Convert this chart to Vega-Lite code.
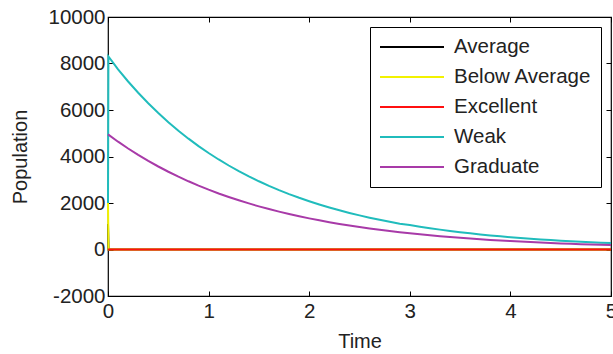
{
  "$schema": "https://vega.github.io/schema/vega-lite/v6.json",
  "width": 503,
  "height": 279,
  "autosize": {"type": "none"},
  "padding": {"left": 108, "top": 17, "right": 2, "bottom": 58},
  "background": "white",
  "config": {
    "view": {"stroke": "#000000", "strokeWidth": 1.2},
    "font": "Liberation Sans",
    "axis": {"grid": false, "domain": false, "tickColor": "#000000", "tickSize": -5, "labelColor": "#222222", "titleColor": "#222222", "labelFontSize": 20.5, "titleFontSize": 20, "titleFontWeight": "normal"}
  },
  "data": {"values": [
    {"t": 0, "v": 1100, "s": "Average"},
    {"t": 0.005, "v": 0, "s": "Average"},
    {"t": 5, "v": 0, "s": "Average"},
    {"t": 0, "v": 2000, "s": "Below Average"},
    {"t": 0.005, "v": 0, "s": "Below Average"},
    {"t": 5, "v": 0, "s": "Below Average"},
    {"t": 0, "v": 0, "s": "Excellent"},
    {"t": 5, "v": 0, "s": "Excellent"},
    {"t": 0, "v": 2000, "s": "Weak"},
    {"t": 0.004, "v": 8300, "s": "Weak"},
    {"t": 0.1, "v": 7744, "s": "Weak"},
    {"t": 0.2, "v": 7226, "s": "Weak"},
    {"t": 0.3, "v": 6742, "s": "Weak"},
    {"t": 0.4, "v": 6290, "s": "Weak"},
    {"t": 0.5, "v": 5869, "s": "Weak"},
    {"t": 0.6, "v": 5476, "s": "Weak"},
    {"t": 0.7, "v": 5109, "s": "Weak"},
    {"t": 0.8, "v": 4767, "s": "Weak"},
    {"t": 0.9, "v": 4448, "s": "Weak"},
    {"t": 1.0, "v": 4150, "s": "Weak"},
    {"t": 1.1, "v": 3872, "s": "Weak"},
    {"t": 1.2, "v": 3613, "s": "Weak"},
    {"t": 1.3, "v": 3371, "s": "Weak"},
    {"t": 1.4, "v": 3145, "s": "Weak"},
    {"t": 1.5, "v": 2934, "s": "Weak"},
    {"t": 1.6, "v": 2738, "s": "Weak"},
    {"t": 1.7, "v": 2555, "s": "Weak"},
    {"t": 1.8, "v": 2384, "s": "Weak"},
    {"t": 1.9, "v": 2224, "s": "Weak"},
    {"t": 2.0, "v": 2075, "s": "Weak"},
    {"t": 2.1, "v": 1936, "s": "Weak"},
    {"t": 2.2, "v": 1807, "s": "Weak"},
    {"t": 2.3, "v": 1686, "s": "Weak"},
    {"t": 2.4, "v": 1573, "s": "Weak"},
    {"t": 2.5, "v": 1467, "s": "Weak"},
    {"t": 2.6, "v": 1369, "s": "Weak"},
    {"t": 2.7, "v": 1277, "s": "Weak"},
    {"t": 2.8, "v": 1192, "s": "Weak"},
    {"t": 2.9, "v": 1112, "s": "Weak"},
    {"t": 3.0, "v": 1050, "s": "Weak"},
    {"t": 3.1, "v": 980, "s": "Weak"},
    {"t": 3.2, "v": 915, "s": "Weak"},
    {"t": 3.3, "v": 855, "s": "Weak"},
    {"t": 3.4, "v": 798, "s": "Weak"},
    {"t": 3.5, "v": 745, "s": "Weak"},
    {"t": 3.6, "v": 696, "s": "Weak"},
    {"t": 3.7, "v": 650, "s": "Weak"},
    {"t": 3.8, "v": 607, "s": "Weak"},
    {"t": 3.9, "v": 567, "s": "Weak"},
    {"t": 4.0, "v": 530, "s": "Weak"},
    {"t": 4.1, "v": 495, "s": "Weak"},
    {"t": 4.2, "v": 463, "s": "Weak"},
    {"t": 4.3, "v": 433, "s": "Weak"},
    {"t": 4.4, "v": 405, "s": "Weak"},
    {"t": 4.5, "v": 379, "s": "Weak"},
    {"t": 4.6, "v": 355, "s": "Weak"},
    {"t": 4.7, "v": 332, "s": "Weak"},
    {"t": 4.8, "v": 311, "s": "Weak"},
    {"t": 4.9, "v": 292, "s": "Weak"},
    {"t": 5.0, "v": 275, "s": "Weak"},
    {"t": 0, "v": 4950, "s": "Graduate"},
    {"t": 0.1, "v": 4637, "s": "Graduate"},
    {"t": 0.2, "v": 4343, "s": "Graduate"},
    {"t": 0.3, "v": 4068, "s": "Graduate"},
    {"t": 0.4, "v": 3811, "s": "Graduate"},
    {"t": 0.5, "v": 3570, "s": "Graduate"},
    {"t": 0.6, "v": 3344, "s": "Graduate"},
    {"t": 0.7, "v": 3132, "s": "Graduate"},
    {"t": 0.8, "v": 2934, "s": "Graduate"},
    {"t": 0.9, "v": 2748, "s": "Graduate"},
    {"t": 1.0, "v": 2574, "s": "Graduate"},
    {"t": 1.1, "v": 2411, "s": "Graduate"},
    {"t": 1.2, "v": 2259, "s": "Graduate"},
    {"t": 1.3, "v": 2116, "s": "Graduate"},
    {"t": 1.4, "v": 1982, "s": "Graduate"},
    {"t": 1.5, "v": 1856, "s": "Graduate"},
    {"t": 1.6, "v": 1739, "s": "Graduate"},
    {"t": 1.7, "v": 1629, "s": "Graduate"},
    {"t": 1.8, "v": 1526, "s": "Graduate"},
    {"t": 1.9, "v": 1429, "s": "Graduate"},
    {"t": 2.0, "v": 1338, "s": "Graduate"},
    {"t": 2.1, "v": 1254, "s": "Graduate"},
    {"t": 2.2, "v": 1174, "s": "Graduate"},
    {"t": 2.3, "v": 1100, "s": "Graduate"},
    {"t": 2.4, "v": 1030, "s": "Graduate"},
    {"t": 2.5, "v": 965, "s": "Graduate"},
    {"t": 2.6, "v": 904, "s": "Graduate"},
    {"t": 2.7, "v": 847, "s": "Graduate"},
    {"t": 2.8, "v": 793, "s": "Graduate"},
    {"t": 2.9, "v": 743, "s": "Graduate"},
    {"t": 3.0, "v": 696, "s": "Graduate"},
    {"t": 3.1, "v": 652, "s": "Graduate"},
    {"t": 3.2, "v": 611, "s": "Graduate"},
    {"t": 3.3, "v": 572, "s": "Graduate"},
    {"t": 3.4, "v": 536, "s": "Graduate"},
    {"t": 3.5, "v": 502, "s": "Graduate"},
    {"t": 3.6, "v": 470, "s": "Graduate"},
    {"t": 3.7, "v": 440, "s": "Graduate"},
    {"t": 3.8, "v": 412, "s": "Graduate"},
    {"t": 3.9, "v": 386, "s": "Graduate"},
    {"t": 4.0, "v": 362, "s": "Graduate"},
    {"t": 4.1, "v": 339, "s": "Graduate"},
    {"t": 4.2, "v": 318, "s": "Graduate"},
    {"t": 4.3, "v": 297, "s": "Graduate"},
    {"t": 4.4, "v": 279, "s": "Graduate"},
    {"t": 4.5, "v": 261, "s": "Graduate"},
    {"t": 4.6, "v": 244, "s": "Graduate"},
    {"t": 4.7, "v": 229, "s": "Graduate"},
    {"t": 4.8, "v": 214, "s": "Graduate"},
    {"t": 4.9, "v": 201, "s": "Graduate"},
    {"t": 5.0, "v": 190, "s": "Graduate"}
  ]},
  "layer": [
    {
      "mark": {"type": "line", "strokeWidth": 2},
      "encoding": {
        "x": {"field": "t", "type": "quantitative", "scale": {"domain": [0, 5], "nice": false}, "axis": {"title": "Time", "values": [0, 1, 2, 3, 4, 5], "labelPadding": 10, "titlePadding": 10, "labelFlush": false, "labelOverlap": false}},
        "y": {"field": "v", "type": "quantitative", "scale": {"domain": [-2000, 10000], "nice": false}, "axis": {"title": "Population", "values": [-2000, 0, 2000, 4000, 6000, 8000, 10000], "labelExpr": "'' + datum.value", "labelPadding": 8, "titlePadding": 17}},
        "color": {
          "field": "s", "type": "nominal",
          "scale": {"domain": ["Average", "Below Average", "Excellent", "Weak", "Graduate"], "range": ["#000000", "#f2f200", "#ff1010", "#20bcbc", "#a83aa8"]},
          "legend": {
            "title": null, "orient": "none", "legendX": 262, "legendY": 10,
            "symbolType": "M-1,0H5.4", "symbolSize": 400, "symbolStrokeWidth": 2,
            "labelFontSize": 20.5, "labelOffset": 53, "labelColor": "#222222",
            "rowPadding": 8, "padding": 9,
            "strokeColor": "#000000", "fillColor": "#ffffff"
          }
        }
      }
    },
    {
      "mark": {"type": "line", "opacity": 0},
      "encoding": {
        "x": {"field": "t", "type": "quantitative", "axis": {"orient": "top", "title": null, "labels": false, "values": [0, 1, 2, 3, 4, 5]}},
        "y": {"field": "v", "type": "quantitative", "axis": {"orient": "right", "title": null, "labels": false, "values": [-2000, 0, 2000, 4000, 6000, 8000, 10000]}}
      }
    }
  ],
  "resolve": {"axis": {"x": "independent", "y": "independent"}}
}
